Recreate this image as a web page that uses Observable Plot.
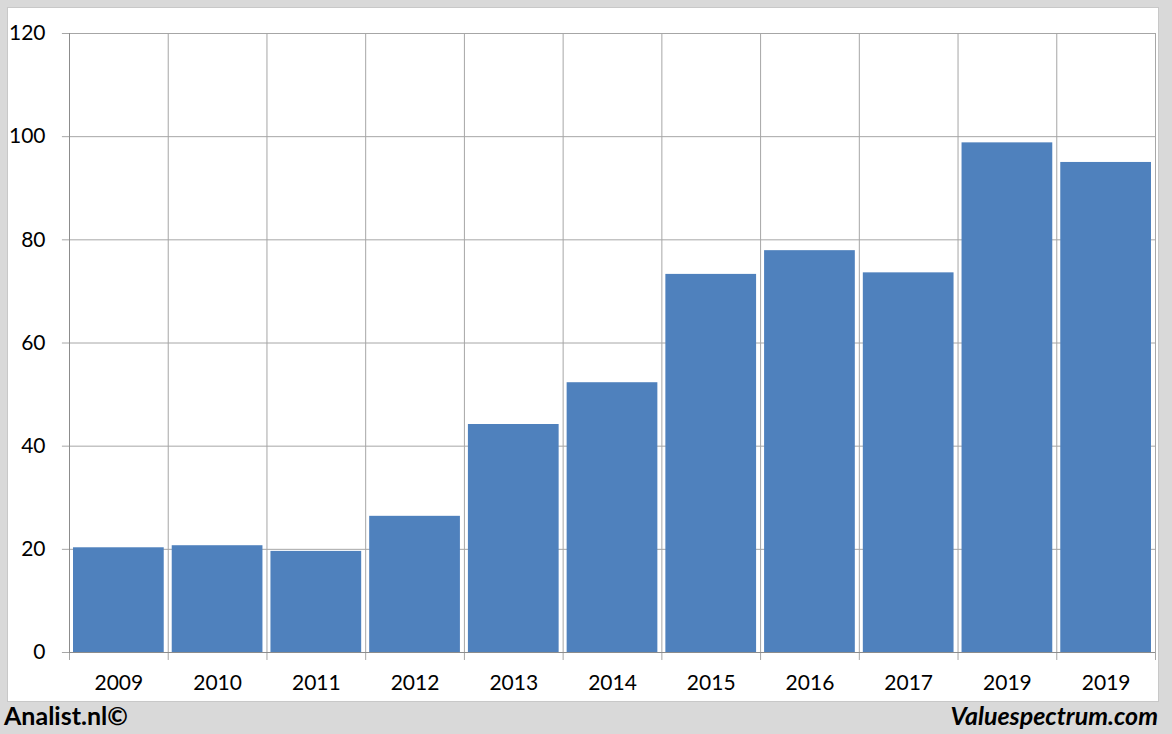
<!DOCTYPE html>
<html>
<head>
<meta charset="utf-8">
<script src="https://cdn.jsdelivr.net/npm/d3@7"></script>
<script src="https://cdn.jsdelivr.net/npm/@observablehq/plot@0.6"></script>
<style>
  html, body { margin: 0; padding: 0; background: #d9d9d9; }
  #frame { position: relative; width: 1172px; height: 734px; background: #d9d9d9; overflow: hidden; font-family: Lato, "Open Sans", sans-serif; }
  #panel { position: absolute; left: 7px; top: 7px; width: 1152px; height: 695px; background: #fff; border: 1px solid #c8c8c8; box-sizing: border-box; }
  #chart { position: absolute; left: 0; top: 0; }
  #left { position: absolute; left: 4px; top: 700px; font-size: 25px; line-height: 30px; font-weight: bold; color: #000; }
  #right { position: absolute; right: 14px; top: 700px; font-size: 25px; line-height: 30px; font-weight: bold; font-style: italic; color: #000; }
</style>
</head>
<body>
<div id="frame">
  <div id="panel"></div>
  <div id="chart"></div>
  <div id="left">Analist.nl©</div>
  <div id="right">Valuespectrum.com</div>
</div>
<script>
const years = ["2009", "2010", "2011", "2012", "2013", "2014", "2015", "2016", "2017", "2019", "2019"];
const values = [20.3, 20.7, 19.6, 26.4, 44.2, 52.3, 73.3, 77.9, 73.6, 98.8, 95.0];
const yTicks = [0, 20, 40, 60, 80, 100, 120];

const data = years.map((label, i) => ({i, label, value: values[i]}));
const bounds = d3.range(years.length + 1);
const n = years.length;

const chart = Plot.plot({
  width: 1172,
  height: 734,
  marginLeft: 69,
  marginRight: 17,
  marginTop: 33,
  marginBottom: 82,
  style: {background: "transparent", fontFamily: "Lato, 'Open Sans', sans-serif", color: "#000"},
  x: {type: "linear", domain: [0, n], label: null},
  y: {domain: [0, 120], label: null},
  marks: [
    Plot.ruleY(yTicks, {x1: -0.072, x2: n, stroke: "#a6a6a6", strokeWidth: 1}),
    Plot.ruleX(bounds, {y1: -1.55, y2: 120, stroke: "#a6a6a6", strokeWidth: 1}),
    Plot.rectY(data, {x1: d => d.i, x2: d => d.i + 1, y: "value", fill: "#4f81bd", insetLeft: 4, insetRight: 4}),
    Plot.ruleX([0], {y1: 0, y2: 120, stroke: "#8c8c8c"}),
    Plot.ruleY([0], {x1: 0, x2: n, stroke: "#8c8c8c"}),
    Plot.axisY(yTicks, {tickSize: 0, tickPadding: 24, fontSize: 21, textAnchor: "end", label: null}),
    Plot.axisX(data.map(d => d.i + 0.5), {tickSize: 0, tickPadding: 23, fontSize: 21, label: null, tickFormat: v => years[Math.round(v - 0.5)]})
  ]
});
document.getElementById("chart").appendChild(chart);
</script>
</body>
</html>
